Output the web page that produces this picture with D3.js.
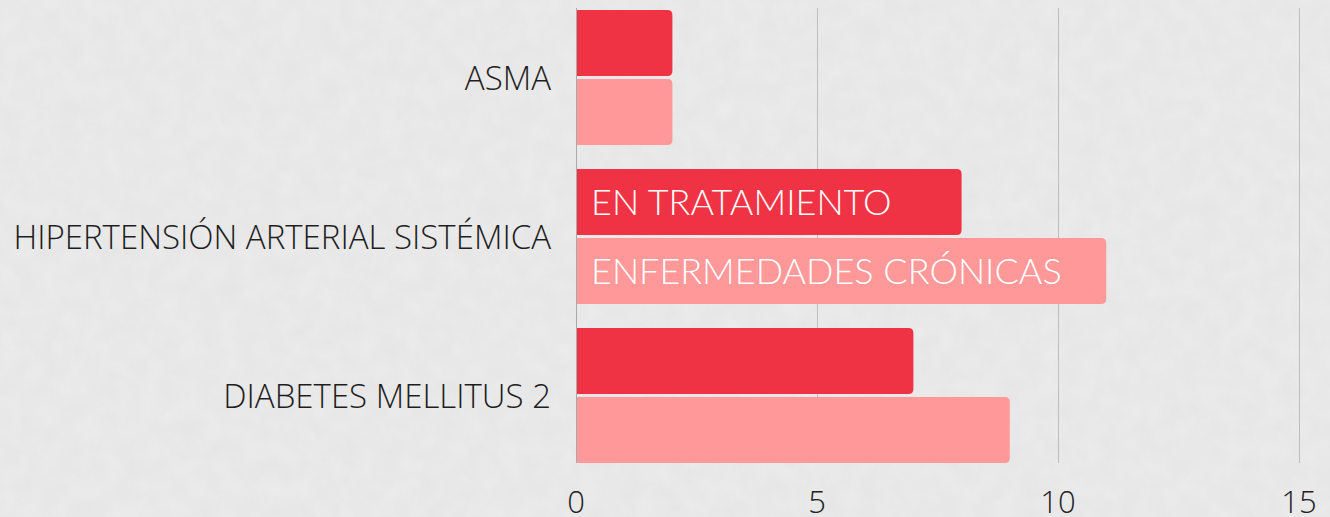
<!DOCTYPE html>
<html>
<head>
<meta charset="utf-8">
<script src="https://cdn.jsdelivr.net/npm/d3@7"></script>
<style>
  html, body { margin: 0; padding: 0; background: #e9e9e9; }
  svg { display: block; }
</style>
</head>
<body>
<div id="chart"></div>
<script>
// data
const categories = ['ASMA', 'HIPERTENSIÓN ARTERIAL SISTÉMICA', 'DIABETES MELLITUS 2'];
const series = ['EN TRATAMIENTO', 'ENFERMEDADES CRÓNICAS'];
const enTratamiento = [2, 8, 7];
const enfermedades = [2, 11, 9];
const xTicks = [0, 5, 10, 15];

const colors = ['#ef3345', '#ff9898'];

const width = 1330, height = 517;

const svg = d3.select('#chart').append('svg')
  .attr('width', width)
  .attr('height', height);

// soft paper texture for the background
const defs = svg.append('defs');
const f = defs.append('filter').attr('id', 'paper');
f.append('feTurbulence')
  .attr('type', 'fractalNoise')
  .attr('baseFrequency', 0.05)
  .attr('numOctaves', 4)
  .attr('seed', 3);
f.append('feColorMatrix')
  .attr('type', 'matrix')
  .attr('values', '0 0 0 0 1  0 0 0 0 1  0 0 0 0 1  0 0 0 0.3 -0.06');
svg.append('rect').attr('width', width).attr('height', height).attr('fill', '#e6e6e6');
svg.append('rect').attr('width', width).attr('height', height).attr('filter', 'url(#paper)');

const x = d3.scaleLinear().domain([0, 15]).range([576, 1299]);

const y = d3.scaleBand()
  .domain(categories)
  .range([-2, 475])
  .paddingInner(0.151)
  .paddingOuter(0.0755);

const ySub = d3.scaleBand()
  .domain(series)
  .range([0, y.bandwidth()])
  .paddingInner(0.045);

const plotTop = 8, plotBottom = 463;

// grid lines
svg.append('g')
  .selectAll('line')
  .data(xTicks)
  .join('line')
  .attr('x1', d => x(d) + 0.5)
  .attr('x2', d => x(d) + 0.5)
  .attr('y1', plotTop)
  .attr('y2', plotBottom)
  .attr('stroke', d => d === 0 ? '#aaaaaa' : '#bdbdbd')
  .attr('stroke-width', 1);

// x tick labels
svg.append('g')
  .selectAll('text')
  .data(xTicks)
  .join('text')
  .attr('x', d => x(d))
  .attr('y', 513)
  .attr('text-anchor', 'middle')
  .style('font-family', '"Open Sans", sans-serif')
  .style('font-weight', 300)
  .style('font-size', '31px')
  .attr('fill', '#222')
  .text(d => d);

// bar with rounded right end
function barPath(x0, x1, y0, h, r) {
  r = Math.min(r, (x1 - x0) / 2, h / 2);
  return `M${x0},${y0}H${x1 - r}Q${x1},${y0} ${x1},${y0 + r}` +
    `V${y0 + h - r}Q${x1},${y0 + h} ${x1 - r},${y0 + h}H${x0}Z`;
}

const rows = categories.map((c, i) => ({
  cat: c,
  vals: [
    {key: series[0], value: enTratamiento[i]},
    {key: series[1], value: enfermedades[i]}
  ]
}));

const group = svg.append('g')
  .selectAll('g')
  .data(rows)
  .join('g')
  .attr('transform', d => `translate(0,${y(d.cat)})`);

group.selectAll('path')
  .data(d => d.vals)
  .join('path')
  .attr('d', d => barPath(x(0) + 1, x(d.value), ySub(d.key), ySub.bandwidth(), 5))
  .attr('fill', (d, i) => colors[i]);

// category labels
svg.append('g')
  .selectAll('text')
  .data(categories)
  .join('text')
  .attr('x', 551)
  .attr('y', d => y(d) + y.bandwidth() / 2 + 12)
  .attr('text-anchor', 'end')
  .style('font-family', '"Open Sans", sans-serif')
  .style('font-weight', 300)
  .style('font-size', '33px')
  .attr('fill', '#1e1e1e')
  .text(d => d);

// series labels written inside the HTA bars
const mid = categories[1];
svg.append('g')
  .selectAll('text')
  .data(series)
  .join('text')
  .attr('x', 591)
  .attr('y', d => y(mid) + ySub(d) + ySub.bandwidth() / 2 + 13)
  .style('font-family', 'Lato, "Open Sans", sans-serif')
  .style('font-weight', 300)
  .style('font-size', '36px')
  .attr('fill', '#ffffff')
  .text(d => d);
</script>
</body>
</html>
